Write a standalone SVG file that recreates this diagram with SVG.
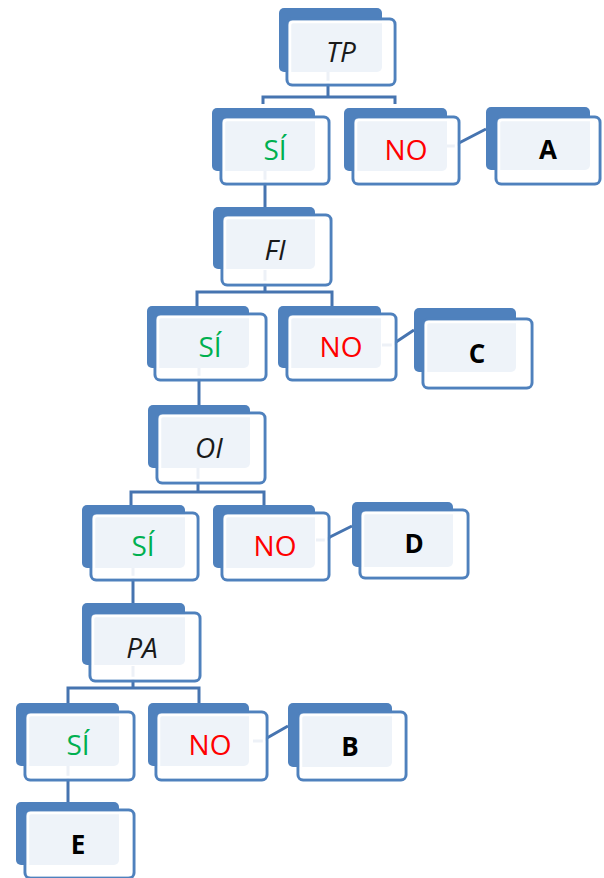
<svg xmlns="http://www.w3.org/2000/svg" width="604" height="878" viewBox="0 0 604 878">
<style>
.bk{fill:#4f81bd}
.fr{fill:#fff;fill-opacity:0.9;stroke:#4f81bd;stroke-width:3}
.rim{fill:none;stroke:#fff;stroke-width:2.5}
.cn{fill:none;stroke:#4674b0;stroke-width:3}
text{font-family:"Open Sans","Liberation Sans",sans-serif;font-size:28px;text-anchor:middle}
.q{font-style:italic;fill:#1a1a1a}
.si{fill:#00b050}
.no{fill:#ff0000}
.r{font-weight:bold;fill:#000;font-size:26px}
</style>
<g id="connectors">
<path class="cn" d="M328 70 V97 M263 104 V97 H395 V104"/>
<path class="cn" d="M265 170 V207"/>
<path class="cn" d="M265 270 V292 M197 307 V292 H332 V307"/>
<path class="cn" d="M199 366 V405"/>
<path class="cn" d="M198 468 V492 M131 506 V492 H264 V506"/>
<path class="cn" d="M133 566 V603"/>
<path class="cn" d="M133 666 V688 M68 704 V688 H199 V704"/>
<path class="cn" d="M68 766 V802"/>
<path class="cn" d="M445 146 H455 L459 143 L486 129"/>
<path class="cn" d="M382 345 H392 L396 342 L414 330"/>
<path class="cn" d="M316 540 H326 L330 537 L352 526"/>
<path class="cn" d="M253 741 H263 L267 738 L288 726"/>
</g>
<g id="n-tp" transform="translate(279,8)">
<rect class="bk" width="103" height="64" rx="5"/><rect class="fr" x="8" y="11" width="108" height="66" rx="5"/><rect class="rim" x="11" y="14" width="102" height="60" rx="3"/>
<text class="q" x="62" y="54">TP</text></g>
<g id="n-si1" transform="translate(212,108)">
<rect class="bk" width="103" height="63" rx="5"/><rect class="fr" x="9" y="9" width="108" height="67" rx="5"/><rect class="rim" x="12" y="12" width="102" height="61" rx="3"/>
<text class="si" x="63" y="52">SÍ</text></g>
<g id="n-no1" transform="translate(344,108)">
<rect class="bk" width="103" height="63" rx="5"/><rect class="fr" x="9" y="9" width="106" height="67" rx="5"/><rect class="rim" x="12" y="12" width="100" height="61" rx="3"/>
<text class="no" x="62" y="52">NO</text></g>
<g id="n-a" transform="translate(486,107)">
<rect class="bk" width="104" height="63" rx="5"/><rect class="fr" x="10" y="10" width="104" height="67" rx="5"/><rect class="rim" x="13" y="13" width="98" height="61" rx="3"/>
<text class="r" x="62" y="52">A</text></g>
<g id="n-fi" transform="translate(213,207)">
<rect class="bk" width="102" height="62" rx="5"/><rect class="fr" x="9" y="8" width="109" height="70" rx="5"/><rect class="rim" x="12" y="11" width="103" height="64" rx="3"/>
<text class="q" x="62" y="53">FI</text></g>
<g id="n-si2" transform="translate(147,306)">
<rect class="bk" width="102" height="62" rx="5"/><rect class="fr" x="8" y="8" width="111" height="66" rx="5"/><rect class="rim" x="11" y="11" width="105" height="60" rx="3"/>
<text class="si" x="63" y="51">SÍ</text></g>
<g id="n-no2" transform="translate(278,306)">
<rect class="bk" width="103" height="62" rx="5"/><rect class="fr" x="9" y="8" width="109" height="66" rx="5"/><rect class="rim" x="12" y="11" width="103" height="60" rx="3"/>
<text class="no" x="63" y="51">NO</text></g>
<g id="n-c" transform="translate(414,308)">
<rect class="bk" width="102" height="64" rx="5"/><rect class="fr" x="9" y="11" width="109" height="69" rx="5"/><rect class="rim" x="12" y="14" width="103" height="63" rx="3"/>
<text class="r" x="63" y="55">C</text></g>
<g id="n-oi" transform="translate(148,405)">
<rect class="bk" width="102" height="63" rx="5"/><rect class="fr" x="9" y="8" width="108" height="70" rx="5"/><rect class="rim" x="12" y="11" width="102" height="64" rx="3"/>
<text class="q" x="61" y="53">OI</text></g>
<g id="n-si3" transform="translate(82,505)">
<rect class="bk" width="103" height="63" rx="5"/><rect class="fr" x="9" y="8" width="107" height="67" rx="5"/><rect class="rim" x="12" y="11" width="101" height="61" rx="3"/>
<text class="si" x="61" y="51">SÍ</text></g>
<g id="n-no3" transform="translate(213,505)">
<rect class="bk" width="102" height="63" rx="5"/><rect class="fr" x="9" y="8" width="107" height="67" rx="5"/><rect class="rim" x="12" y="11" width="101" height="61" rx="3"/>
<text class="no" x="62" y="51">NO</text></g>
<g id="n-d" transform="translate(352,502)">
<rect class="bk" width="101" height="65" rx="5"/><rect class="fr" x="8" y="8" width="108" height="68" rx="5"/><rect class="rim" x="11" y="11" width="102" height="62" rx="3"/>
<text class="r" x="62" y="51">D</text></g>
<g id="n-pa" transform="translate(82,603)">
<rect class="bk" width="103" height="62" rx="5"/><rect class="fr" x="8" y="10" width="110" height="68" rx="5"/><rect class="rim" x="11" y="13" width="104" height="62" rx="3"/>
<text class="q" x="60" y="55">PA</text></g>
<g id="n-si4" transform="translate(16,703)">
<rect class="bk" width="103" height="63" rx="5"/><rect class="fr" x="9" y="9" width="109" height="68" rx="5"/><rect class="rim" x="12" y="12" width="103" height="62" rx="3"/>
<text class="si" x="62" y="52">SÍ</text></g>
<g id="n-no4" transform="translate(148,703)">
<rect class="bk" width="101" height="63" rx="5"/><rect class="fr" x="8" y="9" width="111" height="68" rx="5"/><rect class="rim" x="11" y="12" width="105" height="62" rx="3"/>
<text class="no" x="62" y="52">NO</text></g>
<g id="n-b" transform="translate(288,703)">
<rect class="bk" width="104" height="64" rx="5"/><rect class="fr" x="10" y="9" width="108" height="68" rx="5"/><rect class="rim" x="13" y="12" width="102" height="62" rx="3"/>
<text class="r" x="62" y="53">B</text></g>
<g id="n-e" transform="translate(16,802)">
<rect class="bk" width="103" height="63" rx="5"/><rect class="fr" x="9" y="8" width="109" height="68" rx="5"/><rect class="rim" x="12" y="11" width="103" height="62" rx="3"/>
<text class="r" x="62" y="52">E</text></g>
</svg>
